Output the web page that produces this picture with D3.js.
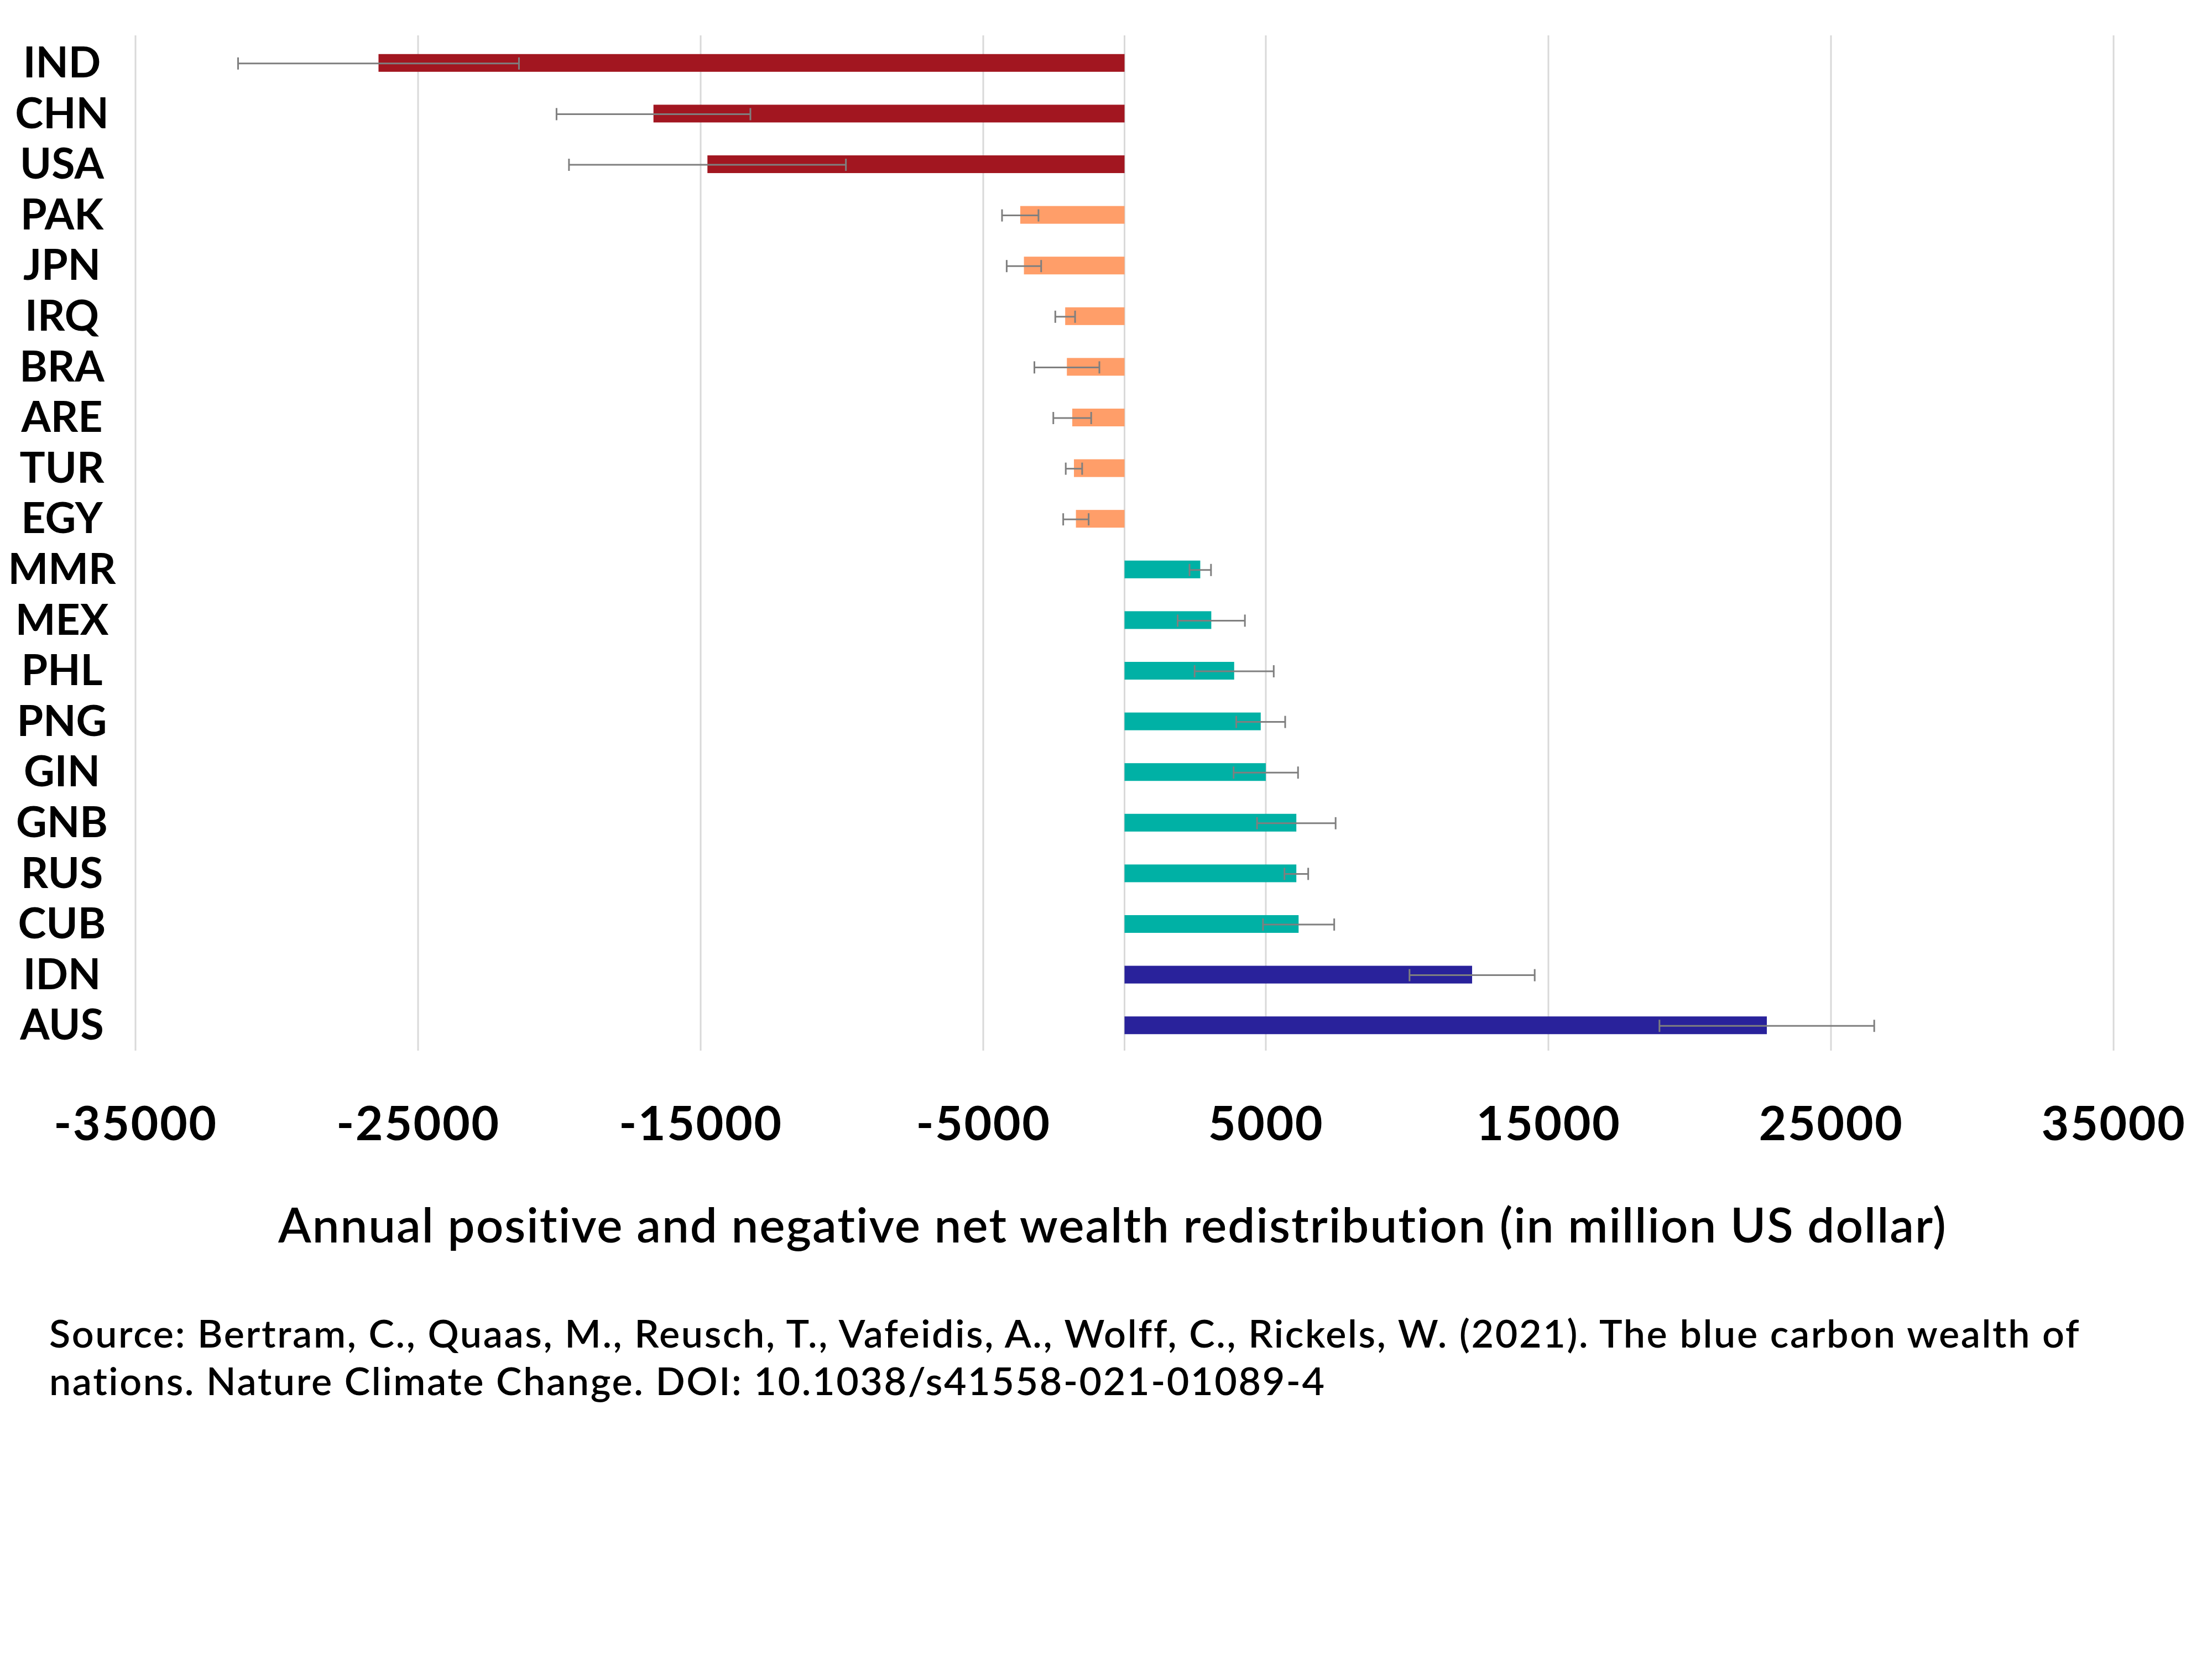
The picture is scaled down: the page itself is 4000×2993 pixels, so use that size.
<!DOCTYPE html>
<html>
<head>
<meta charset="utf-8">
<script src="https://cdn.jsdelivr.net/npm/d3@7"></script>
<style>
  html, body { margin: 0; padding: 0; background: #ffffff; }
  svg { display: block; }
</style>
</head>
<body>
<script>
// ---- data ----
const countries = ["IND","CHN","USA","PAK","JPN","IRQ","BRA","ARE","TUR","EGY",
                   "MMR","MEX","PHL","PNG","GIN","GNB","RUS","CUB","IDN","AUS"];
const values = [-26400,-16670,-14760,-3690,-3560,-2100,-2040,-1850,-1790,-1720,
                2680,3070,3880,4820,5000,6080,6080,6160,12300,22730];
const errors = [4970,3430,4900,645,610,350,1150,670,290,450,
                380,1190,1400,865,1140,1390,420,1260,2215,3800];
const groups = ["largeLoss","largeLoss","largeLoss","loss","loss","loss","loss","loss","loss","loss",
                "gain","gain","gain","gain","gain","gain","gain","gain","largeGain","largeGain"];
const groupNames = ["largeLoss","loss","gain","largeGain"];
const groupColors = ["#A21620","#FF9E69","#00B1A5","#29229B"];
const tickValues = [-35000,-25000,-15000,-5000,5000,15000,25000,35000];
const xTitle = "Annual positive and negative net wealth redistribution (in million US dollar)";
const sourceLines = [
  "Source: Bertram, C., Quaas, M., Reusch, T., Vafeidis, A., Wolff, C., Rickels, W. (2021). The blue carbon wealth of",
  "nations. Nature Climate Change. DOI: 10.1038/s41558-021-01089-4"
];

// ---- layout ----
const W = 4000, H = 2993;
const svg = d3.select("body").append("svg").attr("width", W).attr("height", H);
svg.append("rect").attr("width", W).attr("height", H).attr("fill", "#ffffff");

const x = d3.scaleLinear().domain([-35000, 35000]).range([245, 3822]);
const y = d3.scaleBand().domain(countries).range([68, 1900]).paddingInner(0.65).paddingOuter(0.325);
const color = d3.scaleOrdinal().domain(groupNames).range(groupColors);

const data = countries.map((c, i) => ({c, v: values[i], e: errors[i], g: groups[i]}));
const FONT = "Lato, 'Open Sans', sans-serif";

// gridlines (including zero line)
const gridVals = tickValues.concat([0]);
svg.append("g").selectAll("line").data(gridVals).join("line")
  .attr("x1", d => x(d)).attr("x2", d => x(d))
  .attr("y1", 64).attr("y2", 1900)
  .attr("stroke", "#d9d9d9").attr("stroke-width", 3);

// bars
svg.append("g").selectAll("rect").data(data).join("rect")
  .attr("x", d => x(Math.min(0, d.v)))
  .attr("width", d => Math.abs(x(d.v) - x(0)))
  .attr("y", d => y(d.c))
  .attr("height", y.bandwidth())
  .attr("fill", d => color(d.g));

// error bars
const eb = svg.append("g").attr("stroke", "#7f7f7f").attr("stroke-width", 3).attr("fill", "none");
const cy = d => y(d.c) + y.bandwidth() / 2 + 1;
eb.selectAll("line.h").data(data).join("line").attr("class", "h")
  .attr("x1", d => x(d.v - d.e)).attr("x2", d => x(d.v + d.e))
  .attr("y1", cy).attr("y2", cy);
eb.selectAll("line.l").data(data).join("line").attr("class", "l")
  .attr("x1", d => x(d.v - d.e)).attr("x2", d => x(d.v - d.e))
  .attr("y1", d => cy(d) - 11).attr("y2", d => cy(d) + 11);
eb.selectAll("line.r").data(data).join("line").attr("class", "r")
  .attr("x1", d => x(d.v + d.e)).attr("x2", d => x(d.v + d.e))
  .attr("y1", d => cy(d) - 11).attr("y2", d => cy(d) + 11);

// category labels
const yAxis = d3.axisLeft(y).tickSize(0).tickPadding(0);
const yg = svg.append("g").attr("transform", "translate(112,0)").call(yAxis);
yg.select(".domain").remove();
yg.selectAll("text")
  .attr("text-anchor", "middle").attr("x", 0).attr("dy", "0.34em")
  .attr("font-family", FONT).attr("font-weight", 700).attr("font-size", 77).attr("fill", "#000");

// x tick labels
const xAxis = d3.axisBottom(x).tickValues(tickValues).tickSize(0).tickPadding(0).tickFormat(d => String(d));
const xg = svg.append("g").attr("transform", "translate(0,2062)").call(xAxis);
xg.select(".domain").remove();
xg.selectAll("text")
  .attr("y", 0).attr("dy", 0)
  .attr("font-family", FONT).attr("font-weight", 700).attr("font-size", 86)
  .attr("letter-spacing", 2.5).attr("fill", "#000");

// x title
svg.append("text").attr("x", 2012).attr("y", 2247).attr("text-anchor", "middle")
  .attr("font-family", FONT).attr("font-weight", 600).attr("font-size", 87)
  .attr("letter-spacing", 2).attr("fill", "#000")
  .text(xTitle);

// source
svg.append("g").selectAll("text").data(sourceLines).join("text")
  .attr("x", 89).attr("y", (d, i) => 2437 + i * 86)
  .attr("font-family", FONT).attr("font-weight", 600).attr("font-size", 70)
  .attr("letter-spacing", 2.6).attr("fill", "#000")
  .text(d => d);
</script>
</body>
</html>
